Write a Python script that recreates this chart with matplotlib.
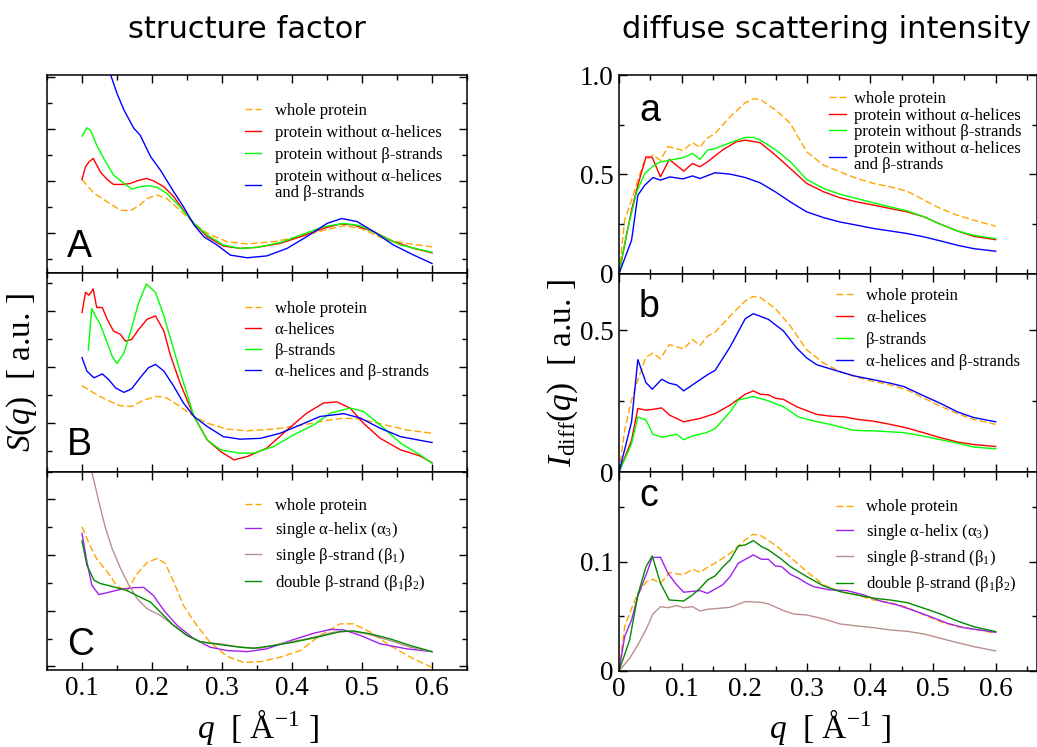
import matplotlib
matplotlib.use("Agg")
import matplotlib.pyplot as plt
from matplotlib.ticker import MultipleLocator, FuncFormatter

plt.rcParams['font.family'] = ['Liberation Serif', 'DejaVu Sans']
plt.rcParams['mathtext.fontset'] = 'custom'
plt.rcParams['mathtext.rm'] = 'Liberation Serif'
plt.rcParams['mathtext.it'] = 'Liberation Serif:italic'
plt.rcParams['mathtext.bf'] = 'Liberation Serif:bold'

ORANGE = '#FFA500'
RED = '#FF0000'
GREEN = '#00FF00'
BLUE = '#0000FF'
VIOLET = '#A020F0'
ROSY = '#BC8F8F'
DKGREEN = '#008B00'

# ---------------- structure factor S(q), arbitrary units ----------------
# A: whole protein vs. protein with parts removed
qA_whole = [0.100, 0.117, 0.136, 0.155, 0.169, 0.183, 0.193, 0.207, 0.221, 0.240, 0.260,
            0.279, 0.307, 0.336, 0.374, 0.412, 0.450, 0.474, 0.498, 0.536, 0.564, 0.600]
sA_whole = [4.06, 3.53, 3.20, 2.88, 2.86, 3.08, 3.33, 3.46, 3.33, 2.88, 2.37,
            1.99, 1.67, 1.58, 1.67, 1.86, 2.14, 2.28, 2.18, 1.73, 1.60, 1.47]
qA_noalpha = [0.100, 0.105, 0.110, 0.116, 0.121, 0.126, 0.136, 0.145, 0.160, 0.169, 0.179,
              0.192, 0.202, 0.217, 0.231, 0.245, 0.260, 0.279, 0.302, 0.326, 0.350, 0.383,
              0.412, 0.445, 0.469, 0.488, 0.517, 0.545, 0.574, 0.600]
sA_noalpha = [4.06, 4.55, 4.74, 4.87, 4.62, 4.36, 4.06, 3.87, 3.87, 3.91, 4.01,
              4.10, 4.01, 3.78, 3.40, 2.88, 2.37, 1.86, 1.50, 1.41, 1.45, 1.60,
              1.86, 2.18, 2.35, 2.31, 2.05, 1.67, 1.41, 1.24]
qA_nobeta = [0.100, 0.107, 0.112, 0.121, 0.131, 0.145, 0.160, 0.171, 0.183, 0.195, 0.207,
             0.221, 0.240, 0.260, 0.279, 0.302, 0.326, 0.350, 0.383, 0.412, 0.445, 0.474,
             0.498, 0.526, 0.555, 0.600]
sA_nobeta = [5.73, 6.05, 5.96, 5.38, 4.87, 4.23, 3.91, 3.69, 3.78, 3.82, 3.76,
             3.53, 3.01, 2.37, 1.92, 1.54, 1.41, 1.45, 1.63, 1.92, 2.24, 2.37,
             2.28, 1.92, 1.54, 1.26]
qA_noboth = [0.100, 0.110, 0.120, 0.130, 0.141, 0.150, 0.160, 0.174, 0.183, 0.198, 0.212,
             0.231, 0.245, 0.260, 0.274, 0.293, 0.312, 0.336, 0.364, 0.393, 0.421, 0.450,
             0.471, 0.493, 0.517, 0.545, 0.574, 0.600]
sA_noboth = [11.9, 10.8, 9.8, 8.9, 8.08, 7.37, 6.73, 6.03, 5.77, 4.94, 4.42,
             3.59, 3.01, 2.31, 1.86, 1.54, 1.15, 1.05, 1.12, 1.41, 1.86, 2.37,
             2.56, 2.44, 2.05, 1.54, 1.15, 0.83]

# B: whole protein vs. secondary structure elements only
qB_whole = [0.100, 0.117, 0.136, 0.155, 0.171, 0.188, 0.207, 0.221, 0.240, 0.260, 0.279,
            0.307, 0.336, 0.374, 0.412, 0.450, 0.474, 0.498, 0.536, 0.564, 0.600]
sB_whole = [3.33, 3.07, 2.81, 2.61, 2.59, 2.81, 2.95, 2.89, 2.59, 2.23, 1.99,
            1.78, 1.72, 1.78, 1.91, 2.09, 2.17, 2.14, 1.91, 1.75, 1.63]
qB_alpha = [0.100, 0.105, 0.110, 0.116, 0.121, 0.129, 0.136, 0.145, 0.155, 0.162, 0.171,
            0.181, 0.193, 0.205, 0.217, 0.226, 0.240, 0.260, 0.279, 0.298, 0.317, 0.336,
            0.364, 0.393, 0.421, 0.445, 0.464, 0.483, 0.502, 0.526, 0.555, 0.583, 0.600]
sB_alpha = [5.94, 6.66, 6.56, 6.78, 6.12, 6.12, 5.70, 5.28, 5.16, 4.92, 4.98,
            5.34, 5.70, 5.82, 5.28, 4.44, 3.43, 2.23, 1.39, 0.98, 0.68, 0.80,
            1.10, 1.75, 2.35, 2.71, 2.75, 2.53, 1.99, 1.45, 1.04, 0.82, 0.58]
qB_beta = [0.109, 0.114, 0.119, 0.126, 0.136, 0.143, 0.150, 0.160, 0.169, 0.181, 0.192,
           0.205, 0.217, 0.231, 0.245, 0.260, 0.279, 0.298, 0.326, 0.345, 0.374, 0.402,
           0.431, 0.455, 0.483, 0.502, 0.526, 0.555, 0.583, 0.600]
sB_beta = [4.60, 6.08, 5.82, 5.52, 4.86, 4.39, 4.12, 4.50, 5.22, 6.30, 6.96,
           6.66, 5.82, 4.62, 3.43, 2.23, 1.39, 1.04, 0.92, 0.92, 1.16, 1.57,
           1.93, 2.35, 2.53, 2.41, 1.93, 1.28, 0.86, 0.56]
qB_both = [0.100, 0.107, 0.117, 0.129, 0.138, 0.148, 0.160, 0.171, 0.183, 0.195, 0.205,
           0.217, 0.231, 0.245, 0.260, 0.279, 0.302, 0.326, 0.355, 0.383, 0.412, 0.440,
           0.474, 0.498, 0.526, 0.555, 0.600]
sB_both = [4.33, 3.85, 3.61, 3.75, 3.55, 3.25, 3.09, 3.22, 3.61, 3.97, 4.09,
           3.85, 3.31, 2.71, 2.23, 1.87, 1.51, 1.42, 1.45, 1.63, 1.93, 2.23,
           2.33, 2.17, 1.81, 1.51, 1.30]

# C: whole protein vs. single elements
qC_whole = [0.100, 0.110, 0.121, 0.136, 0.150, 0.164, 0.179, 0.193, 0.207, 0.219, 0.231,
            0.245, 0.264, 0.283, 0.307, 0.331, 0.355, 0.383, 0.412, 0.440, 0.469, 0.488,
            0.512, 0.540, 0.569, 0.600]
sC_whole = [5.02, 4.42, 3.86, 3.40, 2.89, 2.70, 3.34, 3.73, 3.88, 3.70, 3.04,
            2.19, 1.47, 0.87, 0.36, 0.14, 0.17, 0.33, 0.57, 1.11, 1.53, 1.53,
            1.23, 0.75, 0.33, -0.04]
qC_alpha3 = [0.100, 0.107, 0.114, 0.124, 0.136, 0.155, 0.174, 0.188, 0.202, 0.217, 0.236,
             0.260, 0.283, 0.307, 0.336, 0.364, 0.398, 0.431, 0.455, 0.474, 0.498, 0.526,
             0.564, 0.600]
sC_alpha3 = [4.78, 3.76, 2.92, 2.58, 2.65, 2.77, 2.83, 2.84, 2.55, 2.01, 1.47,
             0.99, 0.69, 0.57, 0.53, 0.63, 0.93, 1.19, 1.33, 1.31, 1.11, 0.81,
             0.63, 0.53]
qC_beta1 = [0.100, 0.107, 0.114, 0.124, 0.133, 0.143, 0.155, 0.167, 0.179, 0.193, 0.212,
            0.231, 0.250, 0.269, 0.298, 0.326, 0.355, 0.383, 0.421, 0.460, 0.483, 0.507,
            0.540, 0.569, 0.600]
sC_beta1 = [9.6, 8.2, 7.0, 5.93, 5.02, 4.24, 3.52, 2.92, 2.43, 2.07, 1.83,
            1.47, 1.11, 0.87, 0.81, 0.69, 0.65, 0.81, 0.99, 1.23, 1.27, 1.17,
            0.93, 0.69, 0.53]
qC_beta12 = [0.100, 0.107, 0.117, 0.126, 0.145, 0.164, 0.183, 0.198, 0.212, 0.231, 0.250,
             0.269, 0.298, 0.326, 0.345, 0.374, 0.402, 0.436, 0.469, 0.488, 0.512, 0.540,
             0.569, 0.600]
sC_beta12 = [4.51, 3.64, 3.10, 2.98, 2.86, 2.73, 2.49, 2.31, 1.95, 1.47, 1.11,
             0.89, 0.78, 0.69, 0.65, 0.75, 0.87, 1.05, 1.25, 1.27, 1.17, 0.99,
             0.75, 0.53]

# ---------------- diffuse scattering intensity I_diff(q) ----------------
qa_whole = [0, 0.009, 0.020, 0.030, 0.041, 0.054, 0.066, 0.078, 0.102, 0.117, 0.129, 0.139,
            0.153, 0.177, 0.201, 0.214, 0.225, 0.251, 0.273, 0.299, 0.326, 0.352, 0.379,
            0.406, 0.432, 0.459, 0.486, 0.512, 0.539, 0.565, 0.600]
Ia_whole = [0, 0.27, 0.37, 0.47, 0.57, 0.597, 0.57, 0.64, 0.62, 0.66, 0.635, 0.68,
            0.705, 0.79, 0.86, 0.88, 0.877, 0.82, 0.756, 0.613, 0.546, 0.513, 0.479,
            0.454, 0.437, 0.415, 0.37, 0.328, 0.294, 0.269, 0.239]
qa_noalpha = [0, 0.020, 0.030, 0.043, 0.053, 0.066, 0.080, 0.103, 0.117, 0.129, 0.141,
              0.166, 0.187, 0.201, 0.225, 0.249, 0.273, 0.299, 0.326, 0.352, 0.379,
              0.406, 0.432, 0.459, 0.486, 0.512, 0.539, 0.565, 0.600]
Ia_noalpha = [0, 0.32, 0.445, 0.588, 0.585, 0.487, 0.575, 0.516, 0.555, 0.538, 0.563,
              0.625, 0.664, 0.672, 0.659, 0.597, 0.529, 0.454, 0.412, 0.382, 0.361,
              0.345, 0.328, 0.311, 0.286, 0.249, 0.215, 0.188, 0.171]
qa_nobeta = [0, 0.012, 0.028, 0.041, 0.054, 0.066, 0.081, 0.103, 0.117, 0.129, 0.141,
             0.153, 0.177, 0.201, 0.214, 0.225, 0.249, 0.273, 0.299, 0.326, 0.352,
             0.379, 0.406, 0.432, 0.459, 0.486, 0.512, 0.539, 0.565, 0.600]
Ia_nobeta = [0, 0.20, 0.41, 0.504, 0.541, 0.563, 0.571, 0.585, 0.605, 0.575, 0.622,
             0.63, 0.659, 0.686, 0.686, 0.672, 0.625, 0.563, 0.474, 0.429, 0.40,
             0.378, 0.356, 0.336, 0.316, 0.286, 0.249, 0.215, 0.193, 0.176]
qa_noboth = [0, 0.020, 0.030, 0.041, 0.054, 0.066, 0.081, 0.102, 0.117, 0.129, 0.153,
             0.177, 0.201, 0.225, 0.249, 0.273, 0.299, 0.326, 0.352, 0.379, 0.406,
             0.432, 0.459, 0.486, 0.512, 0.539, 0.565, 0.600]
Ia_noboth = [0, 0.168, 0.395, 0.445, 0.484, 0.471, 0.487, 0.477, 0.492, 0.479, 0.508,
             0.501, 0.484, 0.457, 0.412, 0.361, 0.311, 0.282, 0.26, 0.244, 0.227,
             0.215, 0.202, 0.185, 0.165, 0.143, 0.126, 0.113]

qb_whole = [0, 0.009, 0.020, 0.030, 0.043, 0.054, 0.066, 0.080, 0.103, 0.117, 0.129, 0.141,
            0.153, 0.177, 0.201, 0.214, 0.225, 0.249, 0.273, 0.299, 0.326, 0.352, 0.379,
            0.406, 0.432, 0.459, 0.486, 0.512, 0.539, 0.565, 0.600]
Ib_whole = [0, 0.148, 0.255, 0.326, 0.406, 0.42, 0.40, 0.45, 0.435, 0.468, 0.447, 0.48,
            0.494, 0.551, 0.604, 0.62, 0.616, 0.577, 0.515, 0.432, 0.385, 0.355, 0.335,
            0.32, 0.308, 0.29, 0.261, 0.233, 0.207, 0.186, 0.169]
qb_alpha = [0, 0.020, 0.030, 0.043, 0.054, 0.068, 0.081, 0.103, 0.129, 0.153, 0.177,
            0.201, 0.214, 0.225, 0.238, 0.249, 0.262, 0.283, 0.315, 0.336, 0.360,
            0.379, 0.406, 0.432, 0.459, 0.486, 0.512, 0.539, 0.565, 0.600]
Ib_alpha = [0, 0.113, 0.225, 0.219, 0.222, 0.227, 0.201, 0.178, 0.19, 0.207, 0.237,
            0.275, 0.287, 0.275, 0.273, 0.261, 0.257, 0.231, 0.204, 0.198, 0.195,
            0.187, 0.18, 0.169, 0.156, 0.139, 0.122, 0.107, 0.098, 0.091]
qb_beta = [0, 0.020, 0.030, 0.043, 0.054, 0.068, 0.092, 0.103, 0.117, 0.139, 0.153,
           0.177, 0.190, 0.214, 0.238, 0.262, 0.286, 0.310, 0.336, 0.374, 0.406,
           0.454, 0.486, 0.512, 0.539, 0.565, 0.600]
Ib_beta = [0, 0.101, 0.195, 0.184, 0.134, 0.124, 0.134, 0.115, 0.128, 0.14, 0.154,
           0.213, 0.255, 0.267, 0.252, 0.231, 0.195, 0.181, 0.169, 0.148, 0.146,
           0.14, 0.127, 0.115, 0.103, 0.089, 0.083]
qb_both = [0, 0.020, 0.030, 0.043, 0.053, 0.068, 0.080, 0.092, 0.103, 0.129, 0.141,
           0.153, 0.177, 0.201, 0.214, 0.238, 0.262, 0.283, 0.299, 0.315, 0.342,
           0.374, 0.406, 0.432, 0.454, 0.486, 0.512, 0.539, 0.565, 0.600]
Ib_both = [0, 0.178, 0.397, 0.316, 0.293, 0.328, 0.314, 0.308, 0.287, 0.326, 0.344,
           0.359, 0.442, 0.541, 0.559, 0.539, 0.498, 0.438, 0.403, 0.379, 0.361,
           0.34, 0.326, 0.314, 0.302, 0.269, 0.243, 0.213, 0.193, 0.178]

qc_whole = [0, 0.009, 0.020, 0.030, 0.044, 0.054, 0.066, 0.081, 0.102, 0.117, 0.129, 0.141,
            0.153, 0.177, 0.201, 0.214, 0.227, 0.249, 0.273, 0.299, 0.326, 0.352, 0.379,
            0.406, 0.432, 0.459, 0.486, 0.512, 0.539, 0.565, 0.600]
Ic_whole = [0, 0.0405, 0.0573, 0.071, 0.0817, 0.0838, 0.0802, 0.090, 0.0878, 0.093, 0.0902,
            0.0948, 0.0985, 0.1076, 0.1198, 0.125, 0.1235, 0.115, 0.104, 0.0909, 0.0787,
            0.0726, 0.0695, 0.0649, 0.0625, 0.0582, 0.0512, 0.0451, 0.0405, 0.0384, 0.0345]
qc_alpha3 = [0, 0.009, 0.020, 0.030, 0.044, 0.053, 0.066, 0.078, 0.092, 0.103, 0.129,
             0.141, 0.165, 0.177, 0.190, 0.214, 0.227, 0.238, 0.249, 0.259, 0.273,
             0.286, 0.299, 0.310, 0.336, 0.363, 0.390, 0.416, 0.443, 0.470, 0.496,
             0.523, 0.549, 0.600]
Ic_alpha3 = [0, 0.0314, 0.0466, 0.0686, 0.0893, 0.1037, 0.104, 0.0893, 0.0787, 0.072,
             0.0735, 0.071, 0.0787, 0.0863, 0.0985, 0.1061, 0.1021, 0.1021, 0.096, 0.0954,
             0.0884, 0.0848, 0.0802, 0.0771, 0.0741, 0.0735, 0.0695, 0.064, 0.0604,
             0.0552, 0.0497, 0.0436, 0.0396, 0.0354]
qc_beta1 = [0, 0.017, 0.030, 0.044, 0.054, 0.066, 0.078, 0.092, 0.103, 0.117, 0.129,
            0.141, 0.177, 0.201, 0.225, 0.238, 0.262, 0.278, 0.299, 0.326, 0.352,
            0.379, 0.406, 0.432, 0.459, 0.486, 0.512, 0.539, 0.565, 0.600]
Ic_beta1 = [0, 0.0116, 0.0238, 0.039, 0.0521, 0.0588, 0.0579, 0.0598, 0.0579, 0.0588,
            0.0549, 0.0564, 0.0582, 0.0634, 0.0628, 0.0613, 0.0552, 0.0521, 0.0512,
            0.0476, 0.043, 0.0412, 0.0396, 0.0375, 0.0363, 0.0338, 0.0299, 0.0259,
            0.0223, 0.0183]
qc_beta12 = [0, 0.017, 0.030, 0.043, 0.053, 0.066, 0.080, 0.103, 0.117, 0.129, 0.141,
             0.153, 0.166, 0.177, 0.190, 0.201, 0.214, 0.227, 0.238, 0.259, 0.273,
             0.299, 0.326, 0.352, 0.379, 0.406, 0.432, 0.459, 0.486, 0.512, 0.539,
             0.565, 0.600]
Ic_beta12 = [0, 0.0284, 0.0695, 0.0954, 0.1052, 0.0802, 0.0649, 0.064, 0.0695, 0.0756,
             0.0832, 0.0869, 0.0954, 0.1015, 0.1143, 0.1152, 0.1192, 0.1137, 0.1107,
             0.1021, 0.0954, 0.0863, 0.0777, 0.0726, 0.0695, 0.0665, 0.0649, 0.0625,
             0.0573, 0.0521, 0.0457, 0.0405, 0.036]

LAB_WHOLE = 'whole protein'
LAB_A = ['protein without α-helices', 'protein without β-strands',
         'protein without α-helices\nand β-strands']
LAB_B = ['α-helices', 'β-strands', 'α-helices and β-strands']
LAB_C = ['single α-helix (α$_3$)', 'single β-strand (β$_1$)',
         'double β-strand (β$_1$β$_2$)']

DASH = dict(ls=(0, (5, 2.2)))


def style(ax, xmajor, xlim, ylim, ymajor, yminor, ylabels=False):
    ax.set_xlim(*xlim)
    ax.set_ylim(*ylim)
    ax.xaxis.set_major_locator(MultipleLocator(xmajor))
    ax.xaxis.set_minor_locator(MultipleLocator(xmajor / 2))
    ax.yaxis.set_major_locator(MultipleLocator(ymajor))
    ax.yaxis.set_minor_locator(MultipleLocator(yminor))
    ax.tick_params(which='both', direction='in', top=True, right=True, width=1.0,
                   labelsize=19.5, pad=4)
    ax.tick_params(which='major', length=6)
    ax.tick_params(which='minor', length=3.5)
    ax.tick_params(axis='x', labelbottom=False)
    ax.tick_params(axis='y', labelleft=ylabels)
    for s in ax.spines.values():
        s.set_linewidth(1.1)


def num(v, pos):
    return '0' if abs(v) < 1e-9 else f'{v:.1f}'


def legend(ax, x, y, spacing, pad):
    lg = ax.legend(loc='upper left', bbox_to_anchor=(x, y), frameon=False, fontsize=12,
                   handlelength=1.0, handletextpad=pad, labelspacing=spacing,
                   borderpad=0, borderaxespad=0)
    return lg


W, H = 1037, 747
fig = plt.figure(figsize=(W / 100, H / 100), dpi=100)

# left column: three stacked panels sharing q
lx0, lx1 = 47 / W, 467 / W
ltop, lbot = 1 - 75 / H, 1 - 670 / H
lh = (ltop - lbot) / 3
axA = fig.add_axes([lx0, lbot + 2 * lh, lx1 - lx0, lh])
axB = fig.add_axes([lx0, lbot + lh, lx1 - lx0, lh])
axC = fig.add_axes([lx0, lbot, lx1 - lx0, lh])

rx0, rx1 = 619 / W, 1036.5 / W
rtop, rbot = 1 - 75 / H, 1 - 671 / H
rh = (rtop - rbot) / 3
axa = fig.add_axes([rx0, rbot + 2 * rh, rx1 - rx0, rh])
axb = fig.add_axes([rx0, rbot + rh, rx1 - rx0, rh])
axc = fig.add_axes([rx0, rbot, rx1 - rx0, rh])

lw = 1.0

# panel A
axA.plot(qA_whole, sA_whole, color=ORANGE, lw=lw, label=LAB_WHOLE, **DASH)
axA.plot(qA_noalpha, sA_noalpha, color=RED, lw=lw, label=LAB_A[0])
axA.plot(qA_nobeta, sA_nobeta, color=GREEN, lw=lw, label=LAB_A[1])
axA.plot(qA_noboth, sA_noboth, color=BLUE, lw=lw, label=LAB_A[2])
style(axA, 0.1, (0.05, 0.65), (0.45, 8.08), 2, 1)
lg = legend(axA, 0.471, 0.859, 0.36, 0.8)
lg.get_texts()[-1].set_linespacing(1.0)

# panel B
axB.plot(qB_whole, sB_whole, color=ORANGE, lw=lw, label=LAB_WHOLE, **DASH)
axB.plot(qB_alpha, sB_alpha, color=RED, lw=lw, label=LAB_B[0])
axB.plot(qB_beta, sB_beta, color=GREEN, lw=lw, label=LAB_B[1])
axB.plot(qB_both, sB_both, color=BLUE, lw=lw, label=LAB_B[2])
style(axB, 0.1, (0.05, 0.65), (0.26, 7.34), 2, 1)
legend(axB, 0.471, 0.861, 0.3, 0.8)

# panel C
axC.plot(qC_whole, sC_whole, color=ORANGE, lw=lw, label=LAB_WHOLE, **DASH)
axC.plot(qC_alpha3, sC_alpha3, color=VIOLET, lw=lw, label=LAB_C[0])
axC.plot(qC_beta1, sC_beta1, color=ROSY, lw=lw, label=LAB_C[1])
axC.plot(qC_beta12, sC_beta12, color=DKGREEN, lw=lw, label=LAB_C[2])
style(axC, 0.1, (0.05, 0.65), (-0.13, 7.0), 2, 1)
axC.tick_params(axis='x', labelbottom=True)
axC.xaxis.set_major_formatter(FuncFormatter(num))
legend(axC, 0.471, 0.869, 0.38, 0.8)

# panel a
axa.plot(qa_whole, Ia_whole, color=ORANGE, lw=lw, label=LAB_WHOLE, **DASH)
axa.plot(qa_noalpha, Ia_noalpha, color=RED, lw=lw, label=LAB_A[0])
axa.plot(qa_nobeta, Ia_nobeta, color=GREEN, lw=lw, label=LAB_A[1])
axa.plot(qa_noboth, Ia_noboth, color=BLUE, lw=lw, label=LAB_A[2])
style(axa, 0.1, (0, 0.665), (0, 1.0), 0.5, 0.25, ylabels=True)
lg = legend(axa, 0.504, 0.919, 0.03, 0.45)
lg.get_texts()[-1].set_linespacing(1.0)

# panel b
axb.plot(qb_whole, Ib_whole, color=ORANGE, lw=lw, label=LAB_WHOLE, **DASH)
axb.plot(qb_alpha, Ib_alpha, color=RED, lw=lw, label=LAB_B[0])
axb.plot(qb_beta, Ib_beta, color=GREEN, lw=lw, label=LAB_B[1])
axb.plot(qb_both, Ib_both, color=BLUE, lw=lw, label=LAB_B[2])
style(axb, 0.1, (0, 0.665), (0, 0.70), 0.5, 0.25, ylabels=True)
legend(axb, 0.520, 0.929, 0.36, 0.8)

# panel c
axc.plot(qc_whole, Ic_whole, color=ORANGE, lw=lw, label=LAB_WHOLE, **DASH)
axc.plot(qc_alpha3, Ic_alpha3, color=VIOLET, lw=lw, label=LAB_C[0])
axc.plot(qc_beta1, Ic_beta1, color=ROSY, lw=lw, label=LAB_C[1])
axc.plot(qc_beta12, Ic_beta12, color=DKGREEN, lw=lw, label=LAB_C[2])
style(axc, 0.1, (0, 0.665), (0, 0.1816), 0.1, 0.05, ylabels=True)
axc.tick_params(axis='x', labelbottom=True)
axc.xaxis.set_major_formatter(FuncFormatter(num))
legend(axc, 0.520, 0.864, 0.38, 0.8)

for ax in (axa, axb, axc):
    ax.yaxis.set_major_formatter(FuncFormatter(num))

# panel letters
for ax, letter, y in ((axA, 'A', 0.08), (axB, 'B', 0.086), (axC, 'C', 0.076),
                      (axa, 'a', 0.77), (axb, 'b', 0.78), (axc, 'c', 0.83)):
    ax.text(0.048, y, letter, transform=ax.transAxes, family='Liberation Sans',
            fontsize=27, va='baseline', ha='left')

# column titles and axis labels
fig.text(247 / W, 1 - 38 / H, 'structure factor', family='DejaVu Sans', fontsize=22,
         ha='center', va='baseline')
fig.text(826 / W, 1 - 38 / H, 'diffuse scattering intensity', family='DejaVu Sans',
         fontsize=22, ha='center', va='baseline')
fig.text(22 / W, (ltop + lbot) / 2, r'$S(q)$  [ a.u. ]', fontsize=24, rotation=90,
         ha='center', va='center')
fig.text(563 / W, (rtop + rbot) / 2, r'$I_{\mathrm{diff}}(q)$  [ a.u. ]', fontsize=24,
         rotation=90, ha='center', va='center')
fig.text(258 / W, 1 - 738 / H, r'$q$  [ Å$^{-1}$ ]', fontsize=24, ha='center',
         va='baseline')
fig.text(830 / W, 1 - 738 / H, r'$q$  [ Å$^{-1}$ ]', fontsize=24, ha='center',
         va='baseline')

fig.savefig('out.png', dpi=100)
